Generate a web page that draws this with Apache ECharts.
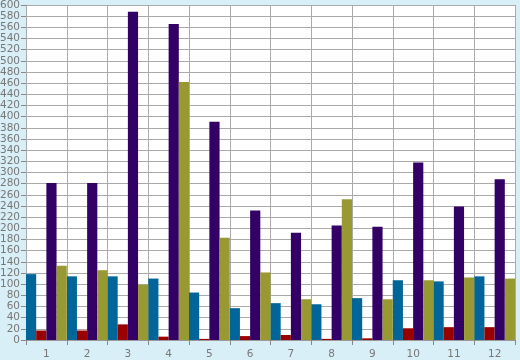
<!DOCTYPE html>
<html><head><meta charset="utf-8">
<script src="https://cdn.jsdelivr.net/npm/echarts@6/dist/echarts.min.js"></script>
<style>html,body{margin:0;padding:0;background:#d9eff7;}#c{width:520px;height:360px;}</style>
</head><body><div id="c"></div>
<script>
var categories = ['1','2','3','4','5','6','7','8','9','10','11','12'];
var tealValues   = [118, 114, 114, 110, 85, 57, 66, 64, 75, 107, 105, 114];
var redValues    = [17, 17, 28, 6, 2, 7, 9, 2, 3, 21, 23, 23];
var purpleValues = [281, 281, 588, 566, 391, 232, 192, 205, 203, 318, 239, 288];
var oliveValues  = [133, 125, 99, 462, 183, 121, 73, 252, 73, 107, 112, 110];
var yTicks = {min: 0, max: 600, interval: 20};

var chart = echarts.init(document.getElementById('c'), null, {renderer: 'canvas'});
function s(name, data, color) {
  return {name: name, type: 'bar', data: data, barGap: '0%', barCategoryGap: '0%',
    itemStyle: {color: color}, animation: false};
}
chart.setOption({
  backgroundColor: '#d9eff7',
  animation: false,
  grid: {left: 26, right: 5, top: 5, bottom: 20, containLabel: false, outerBoundsMode: 'none',
    show: true, backgroundColor: '#ffffff', borderWidth: 0},
  xAxis: {
    type: 'category', data: categories,
    axisLine: {lineStyle: {color: '#999999'}},
    axisTick: {show: true, alignWithLabel: false, length: 5, lineStyle: {color: '#888888'}},
    splitLine: {show: true, lineStyle: {color: '#aaaaaa', width: 1}},
    axisLabel: {color: '#777777', fontFamily: 'DejaVu Sans', fontSize: 10.5, margin: 9}
  },
  yAxis: {
    type: 'value', min: yTicks.min, max: yTicks.max, interval: yTicks.interval,
    axisLine: {show: true, lineStyle: {color: '#aaaaaa'}},
    axisTick: {show: true, length: 5, lineStyle: {color: '#888888'}},
    splitLine: {show: true, lineStyle: {color: '#aaaaaa', width: 1}},
    axisLabel: {color: '#777777', fontFamily: 'DejaVu Sans', fontSize: 10.5, margin: 6}
  },
  series: [
    s('A', tealValues, '#006699'),
    s('B', redValues, '#990000'),
    s('C', purpleValues, '#330066'),
    s('D', oliveValues, '#999933')
  ]
});
</script></body></html>
